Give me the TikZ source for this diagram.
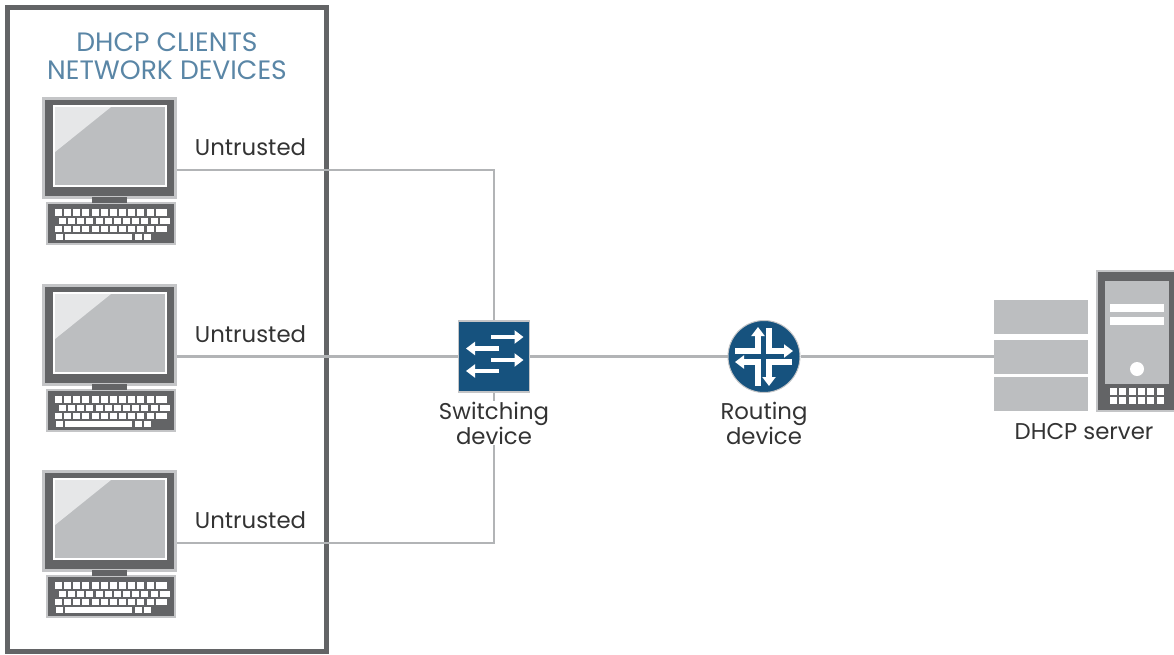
\documentclass[tikz,border=0pt]{standalone}
\usepackage{fontspec}
\setmainfont{Poppins}
\usetikzlibrary{arrows.meta,positioning}
\definecolor{framegray}{RGB}{99, 100, 102}
\definecolor{edgegray}{RGB}{196, 197, 199}
\definecolor{panelgray}{RGB}{188, 190, 192}
\definecolor{glaregray}{RGB}{230, 231, 232}
\definecolor{linkgray}{RGB}{178, 180, 182}
\definecolor{junoblue}{RGB}{22, 82, 126}
\definecolor{titleblue}{RGB}{90, 134, 166}
\tikzset{
    labeltext/.style={font=\fontsize{22.8}{26}\selectfont, text=black!80},
    caption/.style={labeltext, align=center, inner sep=1pt, fill=white},
    link/.style={draw=linkgray, line width=2.5pt},
    whitearrow/.style={draw=white, line width=4.6pt, -{Triangle[length=9pt,width=13pt]}},
    keycap/.style={fill=white},
    pcbody/.style={draw=edgegray, line width=3pt, fill=framegray, minimum width=132pt, minimum height=99pt, inner sep=0pt},
    serverbar/.style={fill=panelgray, minimum width=94pt, minimum height=34pt, inner sep=0pt},
    pics/keyboard/.style={code={
        \draw[edgegray, line width=2.5pt, fill=framegray] (0,0) rectangle (128,41);
        % Key rows
        \foreach \k in {0,...,10} {
            \fill[keycap] (8+\k*9.15,6) rectangle ++(7,6.8);
            \fill[keycap] (12+\k*9.15,14.5) rectangle ++(7,6.2);
            \fill[keycap] (8+\k*9.15,22.5) rectangle ++(7,6.2);
        }
        \fill[keycap] (109,6) rectangle (119.5,12.8);
        \fill[keycap] (113,14.5) rectangle (123,20.7);
        \fill[keycap] (109,22.5) rectangle (119.5,28.7);
        \fill[keycap] (9,30.5) rectangle (15.5,37);
        \fill[keycap] (18,30.5) rectangle (85,37);
        \fill[keycap] (88,30.5) rectangle (94.5,37);
        \fill[keycap] (97,30.5) rectangle (103.5,37);
    }},
}
\begin{document}
\begin{tikzpicture}[x=1pt, y=-1pt]
    \useasboundingbox (0,0) rectangle (1174,654);

    % Client frame
    \draw[framegray, line width=5pt] (7.5,7.5) rectangle (326,651.5);
    \node[font=\fontsize{26.6}{28.5}\selectfont, text=titleblue, align=center, inner sep=0pt] (title) at (167,56) {DHCP CLIENTS\\NETWORK DEVICES};

    % Network devices
    \node[inner sep=0pt, fill=junoblue, draw=edgegray, line width=1.5pt, minimum size=71pt] (switch) at (494,356.5) {};
    \node[circle, inner sep=0pt, fill=junoblue, draw=edgegray, line width=1pt, minimum size=72pt] (router) at (764,356.5) {};
    \node[serverbar] (server) at (1041,356.5) {};
    \node[serverbar] (serverup) at (1041,317) {};
    \node[serverbar] (serverdown) at (1041,394) {};

    % Clients
    \foreach \n/\y in {1/0,2/187,3/373} {
        \node[pcbody] (client\n) at (109.5,147.5+\y) {};
        \draw[white, line width=2pt, fill=panelgray] (54,106+\y) rectangle (166,186+\y);
        \fill[glaregray] (55,107+\y) -- (111,107+\y) -- (55,152+\y) -- cycle;
        \pic at (47,203+\y) {keyboard};
        \fill[framegray] (92,197+\y) rectangle (127,203+\y);
        \coordinate (port\n) at (client\n.east |- 0,170+\y);
    }

    % Links
    \draw[link] (port1) -| (switch.north);
    \draw[link] (client2.east |- switch.west) -- (switch.west);
    \draw[link] (port3) -| (switch.south);
    \draw[link] (switch.east) -- (router.west);
    \draw[link] (router.east) -- (server.west);

    % Labels
    \foreach \y in {147,334,520}
        \node[labeltext, inner sep=0pt] (trust\y) at (250.5,\y) {Untrusted};
    \node[caption] (switchlabel) at (494,423) {Switching\\[-1pt]device};
    \node[caption] (routerlabel) at (764,423) {Routing\\[-1pt]device};
    \node[labeltext, inner sep=0pt] (serverlabel) at (1084,432) {DHCP server};

    % Switch arrows
    \draw[whitearrow] (491,337) -- (523.5,337);
    \draw[whitearrow] (499,348.5) -- (466,348.5);
    \draw[whitearrow] (491,360) -- (523.5,360);
    \draw[whitearrow] (499,371) -- (466,371);

    % Router arrows
    \draw[whitearrow, line width=5.2pt, line join=miter] (735,351) -- (758,351) -- (758,327);
    \draw[whitearrow, line width=5.2pt, line join=miter] (769,328) -- (769,351) -- (793,351);
    \draw[whitearrow, line width=5.2pt, line join=miter] (758,386) -- (758,362) -- (735,362);
    \draw[whitearrow, line width=5.2pt, line join=miter] (792,362) -- (769,362) -- (769,386);

    % Server tower
    \draw[edgegray, line width=2.5pt, fill=framegray] (1097,271) rectangle (1176,411);
    \fill[panelgray] (1105,281) rectangle (1169,384);
    \fill[white] (1110,304) rectangle (1164,312);
    \fill[white] (1110,317) rectangle (1164,325);
    \fill[white] (1137,369) circle (7pt);
    \foreach \k in {0,...,5} {
        \fill[white] (1110+\k*9.3,388) rectangle ++(7,7);
        \fill[white] (1110+\k*9.3,397) rectangle ++(7,7);
    }
\end{tikzpicture}
\end{document}
